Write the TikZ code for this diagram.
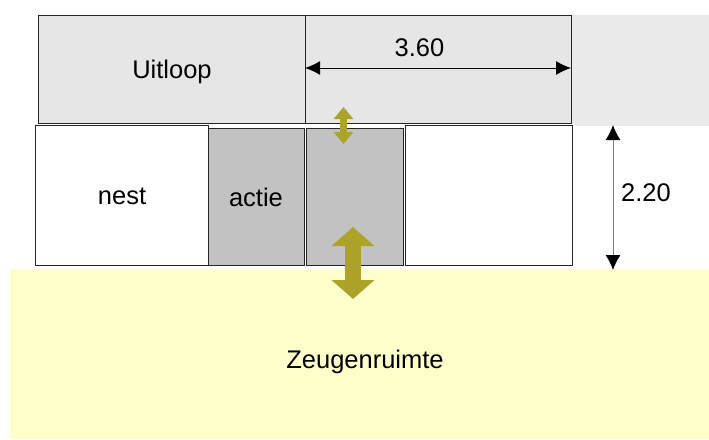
\documentclass[tikz,border=0pt]{standalone}
\usepackage{fontspec}
\setmainfont{Liberation Sans}
\usetikzlibrary{arrows.meta}
\definecolor{olivearrow}{HTML}{ADA22A}
\definecolor{zeug}{HTML}{FFFFCC}
\definecolor{lightdot}{HTML}{E6E6E6}
\definecolor{darkdot}{HTML}{C2C2C2}
\tikzset{
  lbl/.style={font=\fontsize{25.5}{30}\selectfont, inner sep=0pt, anchor=base},
  box/.style={draw=black!85, line width=1pt},
  dim/.style={line width=1pt, {Latex[length=15pt,width=14pt]}-{Latex[length=15pt,width=14pt]}},
}
\begin{document}
\begin{tikzpicture}[x=1pt,y=-1pt]
\useasboundingbox (0,0) rectangle (709,439);
% Zeugenruimte
\fill[zeug] (10,269) rectangle (709,439);
\node[lbl] (zeug) at (365,368) {Zeugenruimte};
% extended dotted area
\fill[lightdot!85!white] (571,15) rectangle (709,126);
% Uitloop
\draw[box, fill=lightdot] (38.5,15) rectangle (571,123);
\draw[box] (305,15) -- (305,123);
\node[lbl] (uitloop) at (172,78) {Uitloop};
% middle row
\draw[box, fill=white] (35.7,125) rectangle (208,265);
\node[lbl] (nest) at (122,204) {nest};
\draw[box, fill=darkdot] (208,128) rectangle (304.5,265);
\node[lbl] (actie) at (256,206.5) {actie};
\draw[box, fill=darkdot] (306.5,128) rectangle (403,265);
\draw[box, fill=white] (405,125) rectangle (572,265);
% dimension 3.60
\coordinate (dl) at (305,68);
\coordinate (dr) at (571,68);
\draw[dim] (dl) -- (dr);
\node[lbl] (w) at (419.5,56) {3.60};
% dimension 2.20
\coordinate (ht) at (613,125);
\coordinate (hb) at (613,270);
\draw[line width=1pt, draw=gray, {Latex[length=15pt,width=15pt,black]}-{Latex[length=15pt,width=15pt,black]}] (ht) -- (hb);
\node[lbl] (h) at (646,201.5) {2.20};
% olive arrows
\coordinate (sa) at (343.5,107);
\coordinate (sb) at (343.5,144);
\draw[olivearrow, line width=7pt, {Triangle[length=12pt,width=19pt]}-{Triangle[length=12pt,width=19pt]}] (sa) -- (sb);
\coordinate (la) at (353,227);
\coordinate (lb) at (353,299);
\draw[olivearrow, line width=16pt, {Triangle[length=19pt,width=42pt]}-{Triangle[length=19pt,width=42pt]}] (la) -- (lb);
\end{tikzpicture}
\end{document}
